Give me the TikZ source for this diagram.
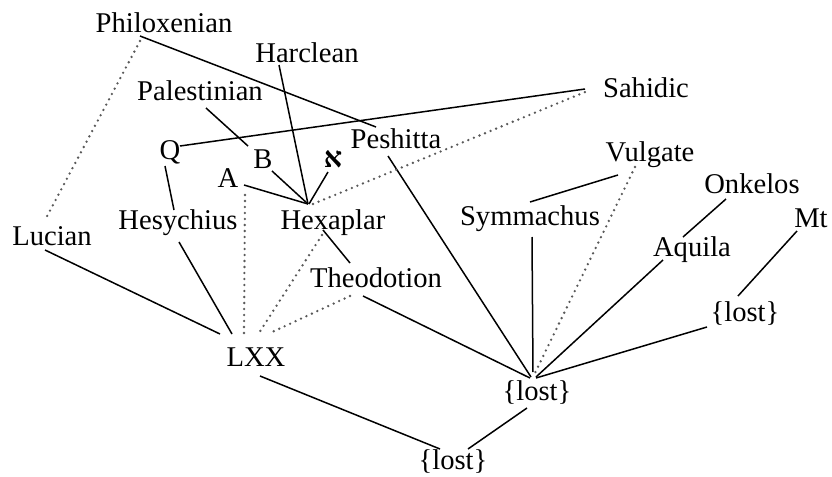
\documentclass[tikz,border=0pt]{standalone}
\usepackage{fontspec}
\setmainfont{Liberation Serif}
\newfontfamily\hebfont[Script=Hebrew]{Liberation Serif}
\usepackage{tikz}
\usetikzlibrary{positioning}

\tikzset{
  wit/.style={inner sep=0pt, anchor=base, font=\fontsize{14.3}{17}\selectfont},
  tie/.style={draw, line width=0.75pt},
  guess/.style={draw, gray!70!black, line width=1.3pt, line cap=round, dash pattern=on 0pt off 3pt},
}

\begin{document}
\begin{tikzpicture}[x=0.5pt, y=-0.5pt]
   \useasboundingbox (0,0) rectangle (832,477);

   % versions (text placed on its baseline)
   \node[wit] (philox) at (164,32) {Philoxenian};
   \node[wit] (harclean) at (307,62) {Harclean};
   \node[wit] (palest) at (200,100) {Palestinian};
   \node[wit] (sahidic) at (646,97) {Sahidic};
   \node[wit] (q) at (170,159) {Q};
   \node[wit] (b) at (263,168) {B};
   \node[wit] (aleph) at (333,167) {\hebfont\bfseries א};
   \node[wit] (peshitta) at (396,148) {Peshitta};
   \node[wit] (vulgate) at (650,161) {Vulgate};
   \node[wit] (a) at (228,187) {A};
   \node[wit] (onkelos) at (752,193) {Onkelos};
   \node[wit] (hesych) at (178,229) {Hesychius};
   \node[wit] (hexaplar) at (333,229) {Hexaplar};
   \node[wit] (symm) at (530,225) {Symmachus};
   \node[wit] (mt) at (811,227) {Mt};
   \node[wit] (lucian) at (52,245) {Lucian};
   \node[wit] (aquila) at (692,256) {Aquila};
   \node[wit] (theod) at (376,287) {Theodotion};
   \node[wit] (lost_r) at (745,321) {\{lost\}};
   \node[wit] (lxx) at (256,366) {LXX};
   \node[wit] (lost_m) at (537,400) {\{lost\}};
   \node[wit] (lost_b) at (453,469) {\{lost\}};

   % solid descent
   \path[tie]
    ([shift={(-24,4)}]philox.base) edge ([shift={(-20,-21)}]peshitta.base)
    ([shift={(-28,3)}]harclean.base) edge ([shift={(-25,-25)}]hexaplar.base)
    ([shift={(6,8)}]palest.base) edge ([shift={(-15,-22)}]b.base)
    ([shift={(10,-13)}]q.base) edge ([shift={(-61,-8)}]sahidic.base)
    ([shift={(9,3)}]b.base) edge ([shift={(-25,-25)}]hexaplar.base)
    ([shift={(16,-2)}]a.base) edge ([shift={(-25,-25)}]hexaplar.base)
    ([shift={(-5,5)}]aleph.base) edge ([shift={(-24,-25)}]hexaplar.base)
    ([shift={(-5,7)}]q.base) edge ([shift={(-4,-19)}]hesych.base)
    ([shift={(-8,8)}]peshitta.base) edge ([shift={(-6,-23)}]lost_m.base)
    ([shift={(-32,14)}]vulgate.base) edge ([shift={(0,-23)}]symm.base)
    ([shift={(-26,6)}]onkelos.base) edge ([shift={(-9,-19)}]aquila.base)
    ([shift={(-14,4)}]mt.base) edge ([shift={(-7,-25)}]lost_r.base)
    ([shift={(2,12)}]symm.base) edge ([shift={(-4,-28)}]lost_m.base)
    ([shift={(-29,4)}]aquila.base) edge ([shift={(-1,-23)}]lost_m.base)
    ([shift={(-38,6)}]lost_r.base) edge ([shift={(-1,-22)}]lost_m.base)
    ([shift={(-13,9)}]theod.base) edge ([shift={(-7,-22)}]lost_m.base)
    ([shift={(-10,1)}]hexaplar.base) edge ([shift={(-26,-24)}]theod.base)
    ([shift={(-7,5)}]lucian.base) edge ([shift={(-36,-32)}]lxx.base)
    ([shift={(1,13)}]hesych.base) edge ([shift={(-24,-32)}]lxx.base)
    ([shift={(4,10)}]lxx.base) edge ([shift={(-13,-20)}]lost_b.base)
    ([shift={(-10,8)}]lost_m.base) edge ([shift={(15,-20)}]lost_b.base)
    ;

   % dotted (doubtful) descent
   \path[guess]
    ([shift={(-24,9)}]philox.base) edge ([shift={(-7,-25)}]lucian.base)
    ([shift={(-20,-25)}]hexaplar.base) edge ([shift={(-56,-7)}]sahidic.base)
    ([shift={(17,8)}]a.base) edge ([shift={(-12,-33)}]lxx.base)
    ([shift={(-15,6)}]vulgate.base) edge ([shift={(-2,-27)}]lost_m.base)
    ([shift={(-11,6)}]hexaplar.base) edge ([shift={(3,-33)}]lxx.base)
    ([shift={(-26,9)}]theod.base) edge ([shift={(14,-33)}]lxx.base)
    ;
\end{tikzpicture}
\end{document}
